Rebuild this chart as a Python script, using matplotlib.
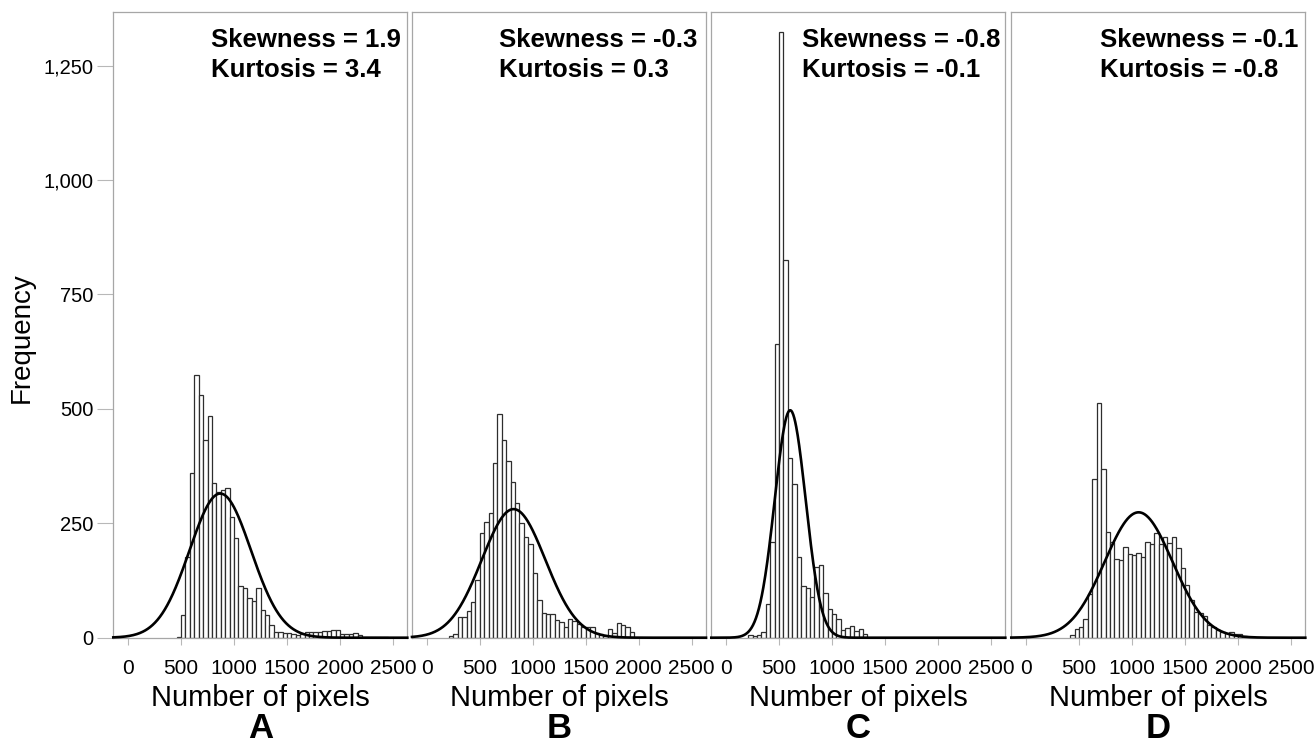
import numpy as np
import matplotlib
matplotlib.use('Agg')
import matplotlib.pyplot as plt

plt.rcParams['font.family'] = ['Liberation Sans', 'DejaVu Sans']

# histogram bins: 60 bins between 0 and 2500
bin_w = 2500 / 60

panels = ['A', 'B', 'C', 'D']
skew = ['1.9', '-0.3', '-0.8', '-0.1']
kurt = ['3.4', '0.3', '-0.1', '-0.8']

# first bin index of each series, then counts
start_a = 11
counts_a = [1, 50, 176, 361, 575, 530, 433, 484, 337, 319, 323, 328, 264, 218, 114, 108,
            86, 80, 108, 60, 50, 28, 13, 12, 11, 10, 8, 6, 7, 12, 13, 12, 12, 15, 15, 16,
            16, 7, 7, 7, 10, 5, 2, 2, 1, 1, 2, 1]
start_b = 5
counts_b = [4, 8, 46, 46, 59, 79, 125, 228, 253, 272, 381, 489, 433, 387, 341, 294, 250,
            221, 205, 141, 82, 53, 52, 52, 39, 35, 24, 40, 37, 30, 24, 24, 23, 11, 9, 4,
            18, 11, 33, 28, 23, 12]
start_c = 5
counts_c = [5, 3, 5, 13, 73, 210, 642, 1323, 825, 392, 335, 176, 114, 109, 90, 155, 159,
            98, 62, 51, 40, 17, 22, 25, 15, 20, 9]
start_d = 10
counts_d = [6, 18, 24, 40, 95, 347, 512, 368, 232, 210, 173, 170, 199, 183, 181, 186, 176,
            210, 205, 228, 205, 221, 206, 221, 195, 152, 115, 82, 57, 55, 47, 28, 23, 17,
            13, 11, 13, 8, 7, 4, 2]

# fitted normal curves: mean, sd, peak height
curve_mean = [870, 819, 605, 1062]
curve_sd = [290, 300, 146, 320]
curve_peak = [315, 281, 497, 274]

starts = [start_a, start_b, start_c, start_d]
counts = [counts_a, counts_b, counts_c, counts_d]

yticks = [0, 250, 500, 750, 1000, 1250]
ylabels = ['0', '250', '500', '750', '1,000', '1,250']
xticks = [0, 500, 1000, 1500, 2000, 2500]

W, H = 1315, 745
fig = plt.figure(figsize=(W / 100, H / 100), dpi=100)

lefts = [113.3, 412.0, 711.3, 1011.3]
txt_x = [0.333, 0.297, 0.31, 0.300]
ax_w = 294
ax_bottom = 637.7
ax_top = 11.7
xlim = (-140, 2636)
ylim = (0, 1368)
frame = '#a6a6a6'

for i in range(4):
    ax = fig.add_axes([lefts[i] / W, (H - ax_bottom) / H, ax_w / W, (ax_bottom - ax_top) / H])
    c = counts[i]
    edges = (np.arange(len(c)) + starts[i]) * bin_w
    ax.bar(edges, c, width=bin_w, align='edge', facecolor='white',
           edgecolor='#2e2e2e', linewidth=0.9, zorder=2)
    xs = np.linspace(xlim[0], xlim[1], 600)
    ys = curve_peak[i] * np.exp(-0.5 * ((xs - curve_mean[i]) / curve_sd[i]) ** 2)
    ax.plot(xs, ys, color='black', linewidth=1.9, zorder=3, clip_on=False)
    ax.set_xlim(xlim)
    ax.set_ylim(ylim)
    for s in ax.spines.values():
        s.set_color(frame)
        s.set_linewidth(0.9)
    ax.set_xticks(xticks)
    ax.set_xticklabels([str(t) for t in xticks])
    ax.tick_params(axis='x', length=5, width=0.8, color='#b8b8b8', pad=10, labelsize=15)
    if i == 0:
        ax.set_yticks(yticks)
        ax.set_yticklabels(ylabels)
        ax.tick_params(axis='y', length=11.5, width=0.8, color='#b8b8b8', pad=2.5, labelsize=14.5)
    else:
        ax.set_yticks([])
    ax.text(txt_x[i], 0.944, 'Skewness = ' + skew[i], transform=ax.transAxes,
            fontsize=18.5, fontweight='bold', ha='left', va='baseline')
    ax.text(txt_x[i], 0.895, 'Kurtosis = ' + kurt[i], transform=ax.transAxes,
            fontsize=18.5, fontweight='bold', ha='left', va='baseline')
    cx = (lefts[i] + ax_w / 2) / W
    fig.text(cx, (H - 706) / H, 'Number of pixels', ha='center', va='baseline', fontsize=21)
    fig.text(cx, (H - 738) / H, panels[i], ha='center', va='baseline', fontsize=25,
             fontweight='bold')

fig.text(21.7 / W, (H - 338) / H, 'Frequency', rotation=90, ha='center', va='center',
         fontsize=20)

fig.savefig('out.png', dpi=100)
